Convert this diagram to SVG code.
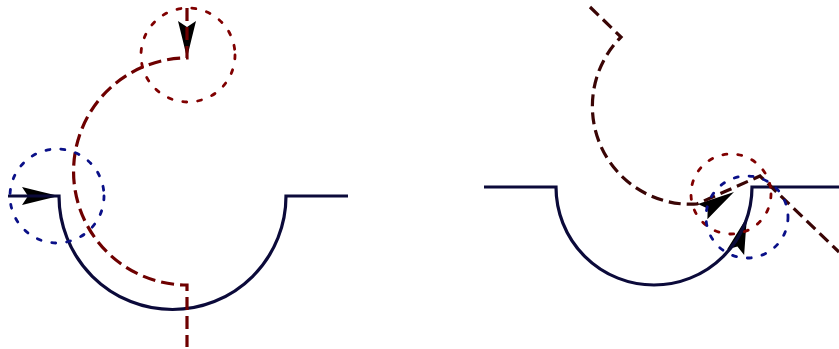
<svg xmlns="http://www.w3.org/2000/svg" width="839" height="349" viewBox="0 0 839 349">
<style>
.solid{fill:none;stroke:#0b0a3a;stroke-width:3.2;stroke-linejoin:miter}
.dashL{fill:none;stroke:#6e0000;stroke-width:3.2;stroke-dasharray:13 6}
.dashR{fill:none;stroke:#3a0505;stroke-width:3.2;stroke-dasharray:12 6}
.dotB{fill:none;stroke:#0a1088;stroke-width:2.8;stroke-dasharray:4 11;stroke-linecap:round}
.dotR{fill:none;stroke:#800000;stroke-width:2.8;stroke-dasharray:4 11;stroke-linecap:round}
</style>
<defs>
<path id="ah" d="M0,0 Q-17,-4 -37,-9 L-31,0 L-37,9 Q-17,4 0,0 Z" fill="#000"/>
</defs>
<rect width="839" height="349" fill="#fff"/>
<g id="left-figure">
<g id="left-arrows">
<use href="#ah" transform="translate(59,196)"/>
<use href="#ah" transform="translate(187,58) rotate(90)"/>
</g>
<g id="left-connectors">
<path class="solid" d="M8,196 H59 A113.5,113.5 0 0 0 286,196 H348"/>
<path class="dashL" d="M187,8 V58 A113.5,113.5 0 0 0 187,285 V347"/>
</g>
<circle id="left-blue-circle" class="dotB" cx="57" cy="196" r="47"/>
<circle id="left-red-circle" class="dotR" cx="188" cy="55" r="47"/>
</g>
<g id="right-figure">
<g id="right-arrows">
<use href="#ah" transform="translate(734,192) rotate(-32)"/>
<use href="#ah" transform="translate(747,217) rotate(-72)"/>
</g>
<g id="right-connectors">
<path class="solid" d="M484,187 H556 A98,98 0 0 0 752,187 H839"/>
<path class="dashR" d="M590,7 L621,37 A98,98 0 0 0 697,204 L760,176 L839,252"/>
</g>
<circle id="right-red-circle" class="dotR" cx="731" cy="194" r="40"/>
<circle id="right-blue-circle" class="dotB" cx="747" cy="217" r="41"/>
</g>
</svg>
